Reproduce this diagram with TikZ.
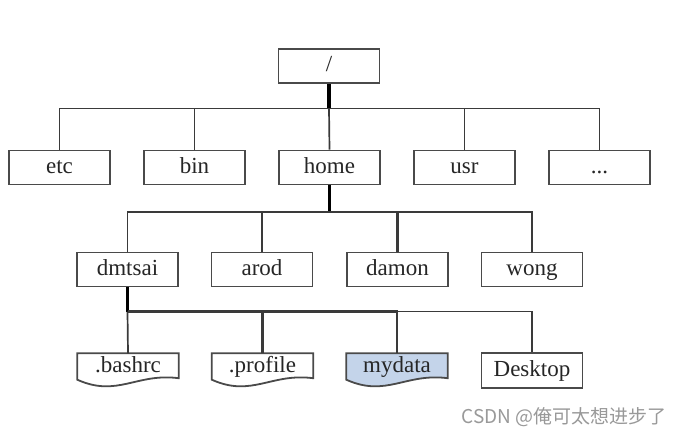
\documentclass[tikz,border=0pt]{standalone}
\usepackage{fontspec}
\setmainfont{Liberation Serif}
\newfontfamily\cjk{Noto Sans CJK SC}
\usetikzlibrary{calc}
\definecolor{boxc}{HTML}{4A4A4A}
\definecolor{linec}{HTML}{3A3A3A}
\definecolor{docfill}{HTML}{C4D4EA}
\begin{document}
\begin{tikzpicture}[x=1pt,y=-1pt,
  box/.style={draw=boxc, line width=1.8pt, fill=white, minimum width=101pt, minimum height=34pt, inner sep=0pt, font=\fontsize{23}{26}\selectfont, text=black!85, text height=16pt, text depth=5pt},
  doctext/.style={minimum width=101pt, minimum height=28pt, inner sep=0pt, font=\fontsize{23}{26}\selectfont, text=black!85, text height=16pt, text depth=5pt},
  docline/.style={draw=boxc, line width=1.8pt},
  link/.style={draw=linec, line width=1.7pt},
  boldlink/.style={draw=linec, line width=2.3pt},
  trunk/.style={draw=black, line width=3.2pt}]
\useasboundingbox (0,0) rectangle (683,439);
\fill[white] (0,0) rectangle (683,439);

% buses (coordinates)
\coordinate (b1) at (329,108.5);
\coordinate (b2) at (329.5,212);
\coordinate (b3) at (127.5,311.5);

% level 0 and 1
\node[box] (root) at (329,66) {/};
\node[box] (etc)  at (59.5,167.5) {etc};
\node[box] (bin)  at (194.5,167.5) {bin};
\node[box] (home) at (329.5,167.5) {home};
\node[box] (usr)  at (464.5,167.5) {usr};
\node[box] (dots) at (599.5,167.5) {...};

% level 2
\node[box] (dmtsai) at (127.5,269.5) {dmtsai};
\node[box] (arod)   at (262,269.5) {arod};
\node[box] (damon)  at (397.5,269.5) {damon};
\node[box] (wong)   at (532,269.5) {wong};

% level 3 documents
\node[doctext] (bashrc)  at (128,366.5) {};
\node[doctext] (profile) at (262.5,366.5) {};
\node[doctext] (mydata)  at (397,366.5) {};
\node[box, minimum height=35pt] (desktop) at (532,370.5) {Desktop};

\foreach \nm/\fc in {bashrc/white, profile/white, mydata/docfill}{
  \draw[docline, fill=\fc]
    ($(\nm.north west)+(0,1)$) -- ($(\nm.north east)+(0,1)$) -- ($(\nm.south east)+(0,-2.5)$)
    .. controls ($(\nm.south east)+(-42,-8)$) and ($(\nm.south west)+(40,17)$) .. ($(\nm.south west)+(0,-1)$)
    -- cycle;
}
\node[doctext] at ($(bashrc)+(0,0)$) {.bashrc};
\node[doctext] at ($(profile)+(0,0)$) {.profile};
\node[doctext] at ($(mydata)+(0,0)$) {mydata};

\draw[trunk] (root.south) -- (b1);
\draw[link] (b1) -| (etc.north);
\draw[link] (b1) -| (bin.north);
\draw[link] (b1) -- (home.north);
\draw[link] (b1) -| (usr.north);
\draw[link] (b1) -| (dots.north);

\draw[trunk] (home.south) -- (b2);
\draw[link] (b2) -| (dmtsai.north);
\draw[boldlink] (b2) -| (arod.north);
\draw[boldlink] (b2) -| (damon.north);
\draw[link] (b2) -| (wong.north);

\draw[trunk] (dmtsai.south) -- (b3);
\draw[link] (b3) -- ($(bashrc.north)+(0,1)$);
\draw[boldlink] (b3) -| ($(profile.north)+(0,1)$);
\draw[boldlink] (b3) -| ($(mydata.north)+(0,1)$);
\draw[link] (b3) -| (desktop.north);

% watermark
\node[font=\cjk\fontsize{19}{22}\selectfont, text=black!40] (wm) at (564,417) {CSDN @俺可太想进步了};
\end{tikzpicture}
\end{document}
